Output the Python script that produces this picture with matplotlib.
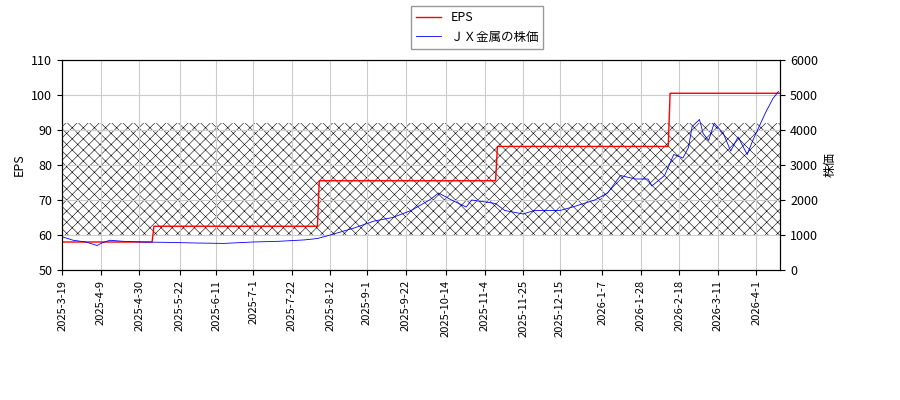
import matplotlib
matplotlib.use('Agg')
import matplotlib.pyplot as plt
import pandas as pd

plt.rcParams['font.family'] = ['Noto Sans CJK JP', 'DejaVu Sans']
plt.rcParams['hatch.linewidth'] = 0.4
plt.rcParams['hatch.color'] = '#888888'

# EPS steps (date, value)
eps_dates = ['2025-03-19', '2025-05-07', '2025-05-08', '2025-08-05', '2025-08-06',
             '2025-11-10', '2025-11-11', '2026-02-12', '2026-02-13', '2026-04-14']
eps_vals = [58.0, 58.0, 62.5, 62.5, 75.5, 75.5, 85.3, 85.3, 100.5, 100.5]

price_dates = ['2025-03-19', '2025-03-25', '2025-04-01', '2025-04-07', '2025-04-10', '2025-04-14',
               '2025-04-21', '2025-05-01', '2025-05-15', '2025-06-01', '2025-06-15', '2025-07-01',
               '2025-07-15', '2025-07-29', '2025-08-05', '2025-08-12', '2025-08-25', '2025-09-05',
               '2025-09-15', '2025-09-20', '2025-09-25', '2025-10-05', '2025-10-10', '2025-10-17',
               '2025-10-25', '2025-10-28', '2025-11-10', '2025-11-15', '2025-11-25', '2025-12-01',
               '2025-12-15', '2025-12-22', '2026-01-03', '2026-01-10', '2026-01-17', '2026-01-25',
               '2026-02-01', '2026-02-03', '2026-02-10', '2026-02-15', '2026-02-20', '2026-02-23',
               '2026-02-25', '2026-03-01', '2026-03-03', '2026-03-06', '2026-03-09', '2026-03-14',
               '2026-03-18', '2026-03-22', '2026-03-27', '2026-03-30', '2026-04-06', '2026-04-10',
               '2026-04-13']
price_vals = [950, 850, 800, 700, 780, 850, 820, 800, 790, 770, 760, 800,
              820, 860, 900, 1000, 1200, 1400, 1500, 1600, 1700, 2000, 2200, 2000,
              1800, 2000, 1900, 1700, 1600, 1700, 1700, 1800, 2000, 2200, 2700, 2600,
              2600, 2400, 2700, 3300, 3200, 3500, 4100, 4300, 3900, 3700, 4200, 3900,
              3400, 3800, 3300, 3700, 4500, 4900, 5100]

tick_labels = ['2025-3-19', '2025-4-9', '2025-4-30', '2025-5-22', '2025-6-11', '2025-7-1',
               '2025-7-22', '2025-8-12', '2025-9-1', '2025-9-22', '2025-10-14', '2025-11-4',
               '2025-11-25', '2025-12-15', '2026-1-7', '2026-1-28', '2026-2-18', '2026-3-11',
               '2026-4-1']

ed = pd.to_datetime(eps_dates)
pdt = pd.to_datetime(price_dates)
ticks = pd.to_datetime(tick_labels)

fig = plt.figure(figsize=(9, 4), dpi=100)
ax = fig.add_axes([0.069, 0.325, 0.798, 0.525])
ax2 = ax.twinx()

ax.fill_between([ed[0], ed[-1]], 60, 92, facecolor='none', hatch='xxx', lw=0)
l1, = ax.plot(ed, eps_vals, color='red', lw=1, label='EPS')
l2, = ax2.plot(pdt, price_vals, color='blue', lw=0.6, label='ＪＸ金属の株価')

ax.set_ylim(50, 110)
ax2.set_ylim(0, 6000)
ax.set_xlim(ed[0], ed[-1])
ax.set_xticks(ticks)
ax.set_xticklabels(tick_labels, rotation=90, fontsize=8)
ax.tick_params(axis='y', labelsize=9)
ax2.tick_params(axis='y', labelsize=9)
ax.grid(True, color='#cccccc', lw=0.8)
ax.set_ylabel('EPS', fontsize=9)
ax2.set_ylabel('株価', fontsize=9)

fig.legend(handles=[l1, l2], loc='upper center', bbox_to_anchor=(0.53, 1.0),
           fontsize=9, fancybox=False, edgecolor='gray')

fig.savefig('out.png')
